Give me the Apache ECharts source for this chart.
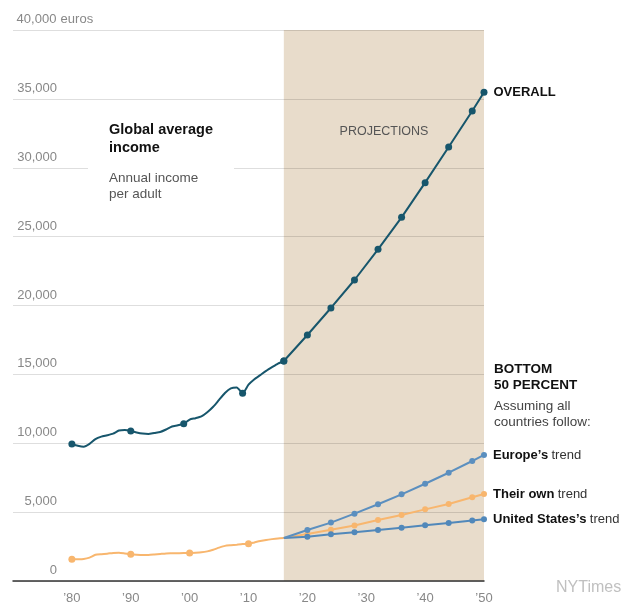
<!DOCTYPE html>
<html><head><meta charset="utf-8">
<script src="https://cdn.jsdelivr.net/npm/echarts@6/dist/echarts.min.js"></script>
<style>html,body{margin:0;padding:0;background:#fff}#c{width:640px;height:613px}</style>
</head><body><div id="c"></div>
<script>
// ---- data ----
const histYears = [1980,1981,1982,1983,1984,1985,1986,1987,1988,1989,1990,1991,1992,1993,1994,1995,1996,1997,1998,1999,2000,2001,2002,2003,2004,2005,2006,2007,2008,2009,2010,2011,2012,2013,2014,2015,2016];
const overallHist = [9950,9820,9750,9950,10300,10480,10580,10700,10920,10960,10890,10780,10700,10670,10750,10820,11000,11220,11300,11420,11720,11820,11950,12250,12650,13150,13650,13990,14050,13630,14250,14650,14950,15250,15520,15780,15970];
const bottomHist = [1575,1580,1600,1700,1900,1950,1980,2040,2050,2000,1940,1910,1890,1890,1920,1960,2000,2010,2020,2030,2030,2050,2080,2150,2270,2420,2550,2600,2640,2680,2700,2800,2900,2980,3040,3090,3120];
const overallMarkerYears = [1980,1990,1999,2009,2016];
const bottomMarkerYears = [1980,1990,2000,2010];

const projYears = [2016,2020,2024,2028,2032,2036,2040,2044,2048,2050];
const overallProj = [15970,17860,19820,21850,24080,26400,28920,31510,34120,35480];
const europeProj = [3120,3700,4240,4890,5570,6290,7060,7860,8710,9150];
const ownProj = [3120,3410,3720,4030,4430,4790,5200,5590,6080,6320];
const usProj = [3120,3220,3390,3540,3700,3870,4040,4210,4400,4480];

const projStart = 2016, projEnd = 2050;
const xTicks = [1980,1990,2000,2010,2020,2030,2040,2050];

// ---- styles ----
const FONT = '"Liberation Sans", Arial, sans-serif';
const C_OVERALL = '#17566c';
const C_EUROPE = '#5b8fbf';
const C_US = '#5188ba';
const C_OWN = '#f8b66e';

function histData(years, vals, markers) {
  return years.map((y, i) => ({ value: [y, vals[i]], symbol: markers.includes(y) ? 'circle' : 'none' }));
}
function projData(years, vals, skipFirst, label) {
  return years.map((y, i) => {
    const d = { value: [y, vals[i]], symbol: (skipFirst && i === 0) ? 'none' : 'circle' };
    if (i === years.length - 1 && label) d.label = label;
    return d;
  });
}
const richLbl = {
  b: { fontFamily: FONT, fontWeight: 'bold', fontSize: 13, color: '#111' },
  r: { fontFamily: FONT, fontSize: 13, color: '#333' }
};
function endLabel(text) {
  return { show: true, position: 'right', distance: 6, formatter: text, rich: richLbl };
}

const chart = echarts.init(document.getElementById('c'));
chart.setOption({
  animation: false,
  textStyle: { fontFamily: FONT },
  grid: { left: 13, right: 156, top: 30, bottom: 32 },
  xAxis: {
    type: 'value', min: 1970, max: 2050, interval: 10, z: 3,
    axisLine: { lineStyle: { color: '#333', width: 1.5 } },
    axisTick: { show: false },
    splitLine: { show: false },
    axisLabel: {
      color: '#888', fontSize: 13, margin: 11, fontFamily: FONT,
      formatter: v => xTicks.includes(v) ? '\u2019' + String(v).slice(2) : ''
    }
  },
  yAxis: {
    type: 'value', min: 0, max: 40000, interval: 5000, z: 3,
    axisLine: { show: false }, axisTick: { show: false },
    splitLine: { lineStyle: { color: 'rgba(0,0,0,0.13)', width: 1 } },
    axisLabel: {
      inside: true, margin: 3, verticalAlign: 'bottom', padding: [0, 0, 4, 0],
      formatter: v => v === 40000 ? '{n|40,000}{e| euros}' : '{n|' + v.toLocaleString('en-US') + '}',
      rich: {
        n: { width: 41, align: 'right', color: '#888', fontSize: 13, fontFamily: FONT },
        e: { color: '#888', fontSize: 13, fontFamily: FONT }
      }
    }
  },
  series: [
    {
      type: 'line', z: 1, data: [[projStart, 0], [projEnd, 40000]], symbol: 'none',
      lineStyle: { opacity: 0 }, silent: true,
      markArea: { silent: true, itemStyle: { color: '#e8dccb' },
        data: [[{ xAxis: projStart, yAxis: 0 }, { xAxis: projEnd, yAxis: 40000 }]] }
    },
    {
      type: 'line', z: 5, data: histData(histYears, bottomHist, bottomMarkerYears), smooth: 0.2,
      symbol: 'circle', symbolSize: 7, itemStyle: { color: C_OWN }, lineStyle: { color: C_OWN, width: 2 }
    },
    {
      type: 'line', z: 5, data: projData(projYears, ownProj, true, endLabel('{b|Their own} {r|trend}')),
      symbol: 'circle', symbolSize: 6, itemStyle: { color: C_OWN }, lineStyle: { color: C_OWN, width: 2 }
    },
    {
      type: 'line', z: 6, data: projData(projYears, usProj, true, endLabel('{b|United States\u2019s} {r|trend}')),
      symbol: 'circle', symbolSize: 6, itemStyle: { color: C_US }, lineStyle: { color: C_US, width: 2 }
    },
    {
      type: 'line', z: 6, data: projData(projYears, europeProj, true, endLabel('{b|Europe\u2019s} {r|trend}')),
      symbol: 'circle', symbolSize: 6, itemStyle: { color: C_EUROPE }, lineStyle: { color: C_EUROPE, width: 2 }
    },
    {
      type: 'line', z: 7, data: histData(histYears, overallHist, overallMarkerYears), smooth: 0.2,
      symbol: 'circle', symbolSize: 7, itemStyle: { color: C_OVERALL }, lineStyle: { color: C_OVERALL, width: 2 }
    },
    {
      type: 'line', z: 7, data: projData(projYears, overallProj, false, endLabel('{b|OVERALL}')),
      symbol: 'circle', symbolSize: 7, itemStyle: { color: C_OVERALL }, lineStyle: { color: C_OVERALL, width: 2 }
    }
  ],
  graphic: [
    { type: 'rect', z: 4, shape: { x: 88, y: 112, width: 146, height: 95 }, style: { fill: '#fff' } },
    { type: 'text', z: 5, style: { x: 109, y: 121, text: 'Global average\nincome', font: 'bold 14.5px ' + FONT, lineHeight: 18, fill: '#111', textVerticalAlign: 'top' } },
    { type: 'text', z: 5, style: { x: 109, y: 170, text: 'Annual income\nper adult', font: '13.5px ' + FONT, lineHeight: 16, fill: '#555', textVerticalAlign: 'top' } },
    { type: 'text', z: 5, style: { x: 384, y: 132, text: 'PROJECTIONS', font: '12.5px ' + FONT, fill: '#555', textAlign: 'center', textVerticalAlign: 'middle' } },
    { type: 'text', z: 5, style: { x: 494, y: 361, text: 'BOTTOM\n50 PERCENT', font: 'bold 13.5px ' + FONT, lineHeight: 16.5, fill: '#111', textVerticalAlign: 'top' } },
    { type: 'text', z: 5, style: { x: 494, y: 398, text: 'Assuming all\ncountries follow:', font: '13.5px ' + FONT, lineHeight: 16, fill: '#444', textVerticalAlign: 'top' } },
    { type: 'text', z: 5, style: { x: 556, y: 588, text: 'NYTimes', font: '16px ' + FONT, fill: '#c0c0c0', textVerticalAlign: 'middle' } }
  ]
});
</script>
</body></html>
